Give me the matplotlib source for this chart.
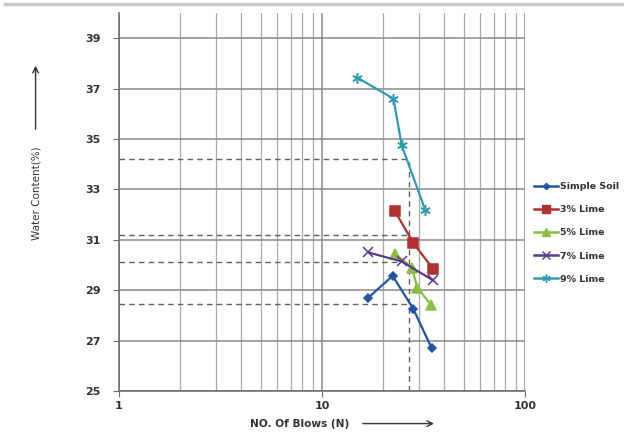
import matplotlib
matplotlib.use("Agg")
from matplotlib import pyplot as plt
from matplotlib.lines import Line2D
from matplotlib.ticker import FixedLocator, NullFormatter

# blows (N) and water content (%)
soil_n = [16.9, 22.3, 28.2, 34.7]
soil_w = [28.7, 29.57, 28.25, 26.7]
lime3_n = [22.9, 28.2, 35.3]
lime3_w = [32.13, 30.87, 29.84]
lime5_n = [22.9, 27.7, 29.5, 34.5]
lime5_w = [30.45, 29.9, 29.1, 28.4]
lime7_n = [16.9, 24.7, 35.3]
lime7_w = [30.5, 30.14, 29.39]
lime9_n = [14.9, 22.5, 24.7, 32.2]
lime9_w = [37.44, 36.6, 34.75, 32.2]

# liquid limits at N=27 (dashed guides)
guide_n = 26.9
guide_w = [34.2, 31.2, 30.1, 28.45]

series = [
    ("Simple Soil", soil_n, soil_w, "#1f55a5", "D", 4),
    ("3% Lime", lime3_n, lime3_w, "#b23030", "s", 6.5),
    ("5% Lime", lime5_n, lime5_w, "#8cbf3f", "^", 6.5),
    ("7% Lime", lime7_n, lime7_w, "#5b3a8c", "x", 6.5),
    ("9% Lime", lime9_n, lime9_w, "#2e9bb5", (6, 2, 0), 7.5),
]

fig = plt.figure(figsize=(6.24, 4.34), dpi=100)
ax = fig.add_axes([0.1907, 0.0991, 0.6506, 0.8709])

ax.set_xscale("log")
ax.set_xlim(1, 100)
ax.set_ylim(25, 40)
ax.set_yticks(range(25, 40, 2))
ax.xaxis.set_major_locator(FixedLocator([1, 10, 100]))
ax.xaxis.set_minor_locator(FixedLocator([2, 3, 4, 5, 6, 7, 8, 9, 20, 30, 40, 50, 60, 70, 80, 90]))
ax.xaxis.set_minor_formatter(NullFormatter())
ax.set_xticklabels(["1", "10", "100"])

ax.grid(True, which="major", axis="both", color="#8a8a8a", lw=1.1)
ax.grid(True, which="minor", axis="x", color="#a8a8a8", lw=0.9)
ax.set_axisbelow(True)

for s in ["top", "right"]:
    ax.spines[s].set_visible(False)
for s in ["left", "bottom"]:
    ax.spines[s].set_color("#707070")
    ax.spines[s].set_linewidth(1.2)

ax.tick_params(axis="both", which="major", labelsize=8, colors="#707070",
               labelcolor="#333333", length=4)
ax.tick_params(axis="x", which="minor", length=0)
for lab in ax.get_xticklabels() + ax.get_yticklabels():
    lab.set_fontweight("bold")
ax.tick_params(axis="y", pad=9)

# dashed guide lines
for w in guide_w:
    ax.plot([1, guide_n], [w, w], ls=(0, (4, 3)), color="#606060", lw=1.0, zorder=2)
ax.plot([guide_n, guide_n], [25, max(guide_w)], ls=(0, (4, 3)), color="#606060", lw=1.0, zorder=2)

handles = []
for name, n, w, c, m, ms in series:
    ax.plot(n, w, color=c, lw=1.6, marker=m, ms=ms, mec=c, mfc=c, mew=1.1, zorder=3)
    handles.append(Line2D([0], [0], color=c, lw=1.8, marker=m, ms=ms * 0.8, mec=c, mfc=c, mew=1.0))

leg = fig.legend(handles, [s[0] for s in series], loc="upper left",
                 bbox_to_anchor=(0.842, 0.6), frameon=False, fontsize=6.8,
                 handlelength=2.6, handletextpad=0.2, labelspacing=1.5)
for t in leg.get_texts():
    t.set_fontweight("bold")
    t.set_color("#333333")

# axis titles with arrows
fig.text(0.059, 0.555, "Water Content(%)", rotation=90, ha="center", va="center",
         fontsize=7.5, color="#333333")
ax.annotate("", xy=(0.057, 0.855), xytext=(0.057, 0.696), xycoords="figure fraction",
            arrowprops=dict(arrowstyle="->", color="#333333", lw=1.0))

fig.text(0.48, 0.022, "NO. Of Blows (N)", ha="center", va="center",
         fontsize=7.6, fontweight="bold", color="#333333")
ax.annotate("", xy=(0.70, 0.024), xytext=(0.577, 0.024), xycoords="figure fraction",
            arrowprops=dict(arrowstyle="->", color="#333333", lw=1.0))

# grey strip at the very top of the screenshot
fig.add_artist(Line2D([0.008, 1.0], [0.991, 0.991], color="#c8c8c8", lw=2.5))

fig.savefig("out.png", dpi=100)
